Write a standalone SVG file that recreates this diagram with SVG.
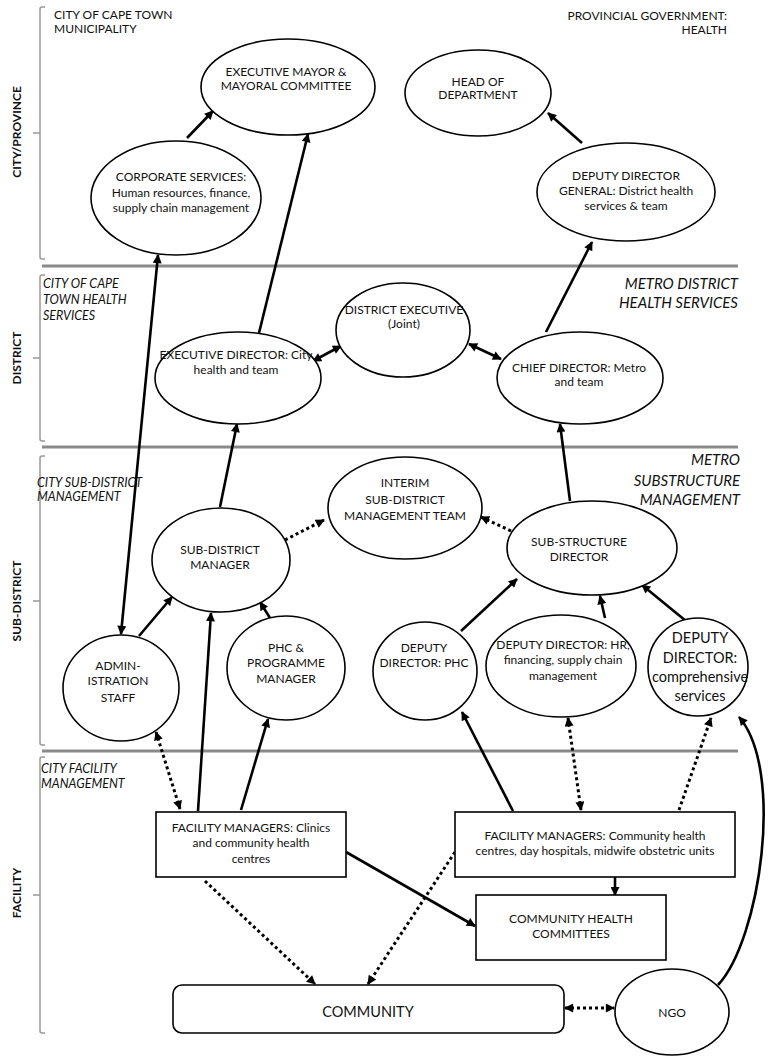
<svg xmlns="http://www.w3.org/2000/svg" width="781" height="1056" viewBox="0 0 781 1056">
<defs>
<style>
.n{fill:#fff;stroke:#000;stroke-width:1.6}
.t{font-family:Lato,"Liberation Sans",sans-serif;font-size:12px;fill:#111;text-anchor:middle}
.tl{font-family:Lato,"Liberation Sans",sans-serif;font-size:14.5px;fill:#111;text-anchor:middle}
.band{font-family:Lato,"Liberation Sans",sans-serif;font-size:12.5px;fill:#111;font-style:italic}
.bandr{font-family:Lato,"Liberation Sans",sans-serif;font-size:15px;fill:#111;font-style:italic;text-anchor:end}
.vl{font-family:Lato,"Liberation Sans",sans-serif;font-size:12px;font-weight:bold;fill:#111;text-anchor:middle}
.sep{stroke:#8a8a8a;stroke-width:3;fill:none}
.br{stroke:#999;stroke-width:1.5;fill:none}
.s{stroke:#000;stroke-width:2.6;fill:none;marker-end:url(#ah)}
.d{stroke:#000;stroke-width:3;stroke-dasharray:3 3;fill:none;marker-end:url(#ah)}
.both{marker-start:url(#ah)}
</style>
<marker id="ah" viewBox="0 0 10 10" refX="9" refY="5" markerWidth="10" markerHeight="9" markerUnits="userSpaceOnUse" orient="auto-start-reverse">
<path d="M0,0 L10,5 L0,10 z" fill="#000"/>
</marker>
</defs>
<rect width="781" height="1056" fill="#fff"/>

<g id="bands">
<path class="br" d="M45,7 H42 Q40,7 40,9 V257 Q40,259 42,259 H45 M40,133 H33"/>
<path class="br" d="M45,275 H42 Q40,275 40,277 V439 Q40,441 42,441 H45 M40,358 H33"/>
<path class="br" d="M45,456 H42 Q40,456 40,458 V743 Q40,745 42,745 H45 M40,601 H33"/>
<path class="br" d="M45,757 H42 Q40,757 40,759 V1031 Q40,1033 42,1033 H45 M40,895 H33"/>
<line class="sep" x1="42" y1="266" x2="738" y2="266"/>
<line class="sep" x1="42" y1="447" x2="738" y2="447"/>
<line class="sep" x1="42" y1="751" x2="738" y2="751"/>
<text class="vl" transform="translate(21,132) rotate(-90)">CITY/PROVINCE</text>
<text class="vl" transform="translate(21,358) rotate(-90)">DISTRICT</text>
<text class="vl" transform="translate(21,601) rotate(-90)">SUB-DISTRICT</text>
<text class="vl" transform="translate(21,893) rotate(-90)">FACILITY</text>
<text class="t" style="text-anchor:start" x="54" y="19">CITY OF CAPE TOWN</text>
<text class="t" style="text-anchor:start" x="54" y="33">MUNICIPALITY</text>
<text class="t" style="text-anchor:end" x="727" y="20">PROVINCIAL GOVERNMENT:</text>
<text class="t" style="text-anchor:end" x="727" y="34">HEALTH</text>
<text class="band" x="43" y="288">CITY OF CAPE</text>
<text class="band" x="43" y="304">TOWN HEALTH</text>
<text class="band" x="43" y="320">SERVICES</text>
<text class="bandr" x="738" y="289">METRO DISTRICT</text>
<text class="bandr" x="738" y="308">HEALTH SERVICES</text>
<text class="band" x="37" y="487">CITY SUB-DISTRICT</text>
<text class="band" x="37" y="501">MANAGEMENT</text>
<text class="bandr" x="740" y="465">METRO</text>
<text class="bandr" x="740" y="486">SUBSTRUCTURE</text>
<text class="bandr" x="740" y="505">MANAGEMENT</text>
<text class="band" x="41" y="773">CITY FACILITY</text>
<text class="band" x="41" y="788">MANAGEMENT</text>
</g>

<g id="connectors">
<path class="s" d="M187,138 L213,111"/>
<path class="s" d="M259,333 L308,134"/>
<path class="s both" d="M121,634 L158,255"/>
<path class="s both" d="M313,361 L341,346"/>
<path class="s both" d="M469,344 L501,359"/>
<path class="s" d="M546,332 L592,242"/>
<path class="s" d="M582,143 L548,113"/>
<path class="s" d="M220,507 L237,424"/>
<path class="s" d="M570,501 L560,424"/>
<path class="d" d="M285,540 L324,520"/>
<path class="d" d="M511,531 L481,517"/>
<path class="s" d="M139,636 L172,597"/>
<path class="s" d="M270,618 L260,602"/>
<path class="s" d="M198,811 L211,613"/>
<path class="s" d="M241,810 L268,719"/>
<path class="d both" d="M156,732 L180,809"/>
<path class="s" d="M461,631 L517,579"/>
<path class="s" d="M605,618 L600,596"/>
<path class="s" d="M686,621 L642,585"/>
<path class="s" d="M513,811 L462,712"/>
<path class="d both" d="M581,810 L568,718"/>
<path class="d" d="M679,810 L711,718"/>
<path class="s" d="M718,985 C760,940 785,770 739,717"/>
<path class="s" d="M346,852 L475,926"/>
<path class="s" d="M615,877 L615,895"/>
<path class="d" d="M205,881 L315,984"/>
<path class="d" d="M455,852 L368,984"/>
<path class="d both" d="M565,1008 L614,1008"/>
</g>

<g id="exec-mayor"><ellipse class="n" cx="288" cy="87" rx="87" ry="48"/>
<text class="t" x="286" y="76">EXECUTIVE MAYOR &amp;</text><text class="t" x="286" y="90">MAYORAL COMMITTEE</text></g>
<g id="corporate"><ellipse class="n" cx="176" cy="198" rx="85" ry="57"/>
<text class="t" x="181" y="181">CORPORATE SERVICES:</text><text class="t" x="181" y="197">Human resources, finance,</text><text class="t" x="181" y="212">supply chain management</text></g>
<g id="head-dept"><ellipse class="n" cx="478" cy="93" rx="73" ry="43"/>
<text class="t" x="478" y="86">HEAD OF</text><text class="t" x="478" y="99">DEPARTMENT</text></g>
<g id="ddg"><ellipse class="n" cx="626" cy="192" rx="89" ry="49"/>
<text class="t" x="626" y="180">DEPUTY DIRECTOR</text><text class="t" x="626" y="195">GENERAL: District health</text><text class="t" x="626" y="210">services &amp; team</text></g>
<g id="exec-director"><ellipse class="n" cx="238" cy="378" rx="83" ry="46"/>
<text class="t" x="236" y="359">EXECUTIVE DIRECTOR: City</text><text class="t" x="236" y="374">health and team</text></g>
<g id="district-exec"><ellipse class="n" cx="403" cy="330" rx="67" ry="47"/>
<text class="t" x="404" y="314">DISTRICT EXECUTIVE</text><text class="t" x="404" y="328">(Joint)</text></g>
<g id="chief-director"><ellipse class="n" cx="580" cy="378" rx="83" ry="46"/>
<text class="t" x="579" y="372">CHIEF DIRECTOR: Metro</text><text class="t" x="579" y="386">and team</text></g>
<g id="interim"><ellipse class="n" cx="405" cy="508" rx="77" ry="51"/>
<text class="t" x="405" y="487">INTERIM</text><text class="t" x="405" y="504">SUB-DISTRICT</text><text class="t" x="405" y="520">MANAGEMENT TEAM</text></g>
<g id="sub-district-manager"><ellipse class="n" cx="221" cy="560" rx="69" ry="52"/>
<text class="t" x="220" y="554">SUB-DISTRICT</text><text class="t" x="220" y="569">MANAGER</text></g>
<g id="sub-structure-director"><ellipse class="n" cx="592" cy="548" rx="85" ry="47"/>
<text class="t" x="579" y="546">SUB-STRUCTURE</text><text class="t" x="579" y="561">DIRECTOR</text></g>
<g id="admin-staff"><ellipse class="n" cx="121" cy="688" rx="58" ry="53"/>
<text class="t" x="118" y="670">ADMIN-</text><text class="t" x="118" y="685">ISTRATION</text><text class="t" x="118" y="702">STAFF</text></g>
<g id="phc-programme"><ellipse class="n" cx="286" cy="668" rx="59" ry="52"/>
<text class="t" x="286" y="652">PHC &amp;</text><text class="t" x="286" y="667">PROGRAMME</text><text class="t" x="286" y="683">MANAGER</text></g>
<g id="dd-phc"><ellipse class="n" cx="425" cy="671" rx="52" ry="49"/>
<text class="t" x="424" y="652">DEPUTY</text><text class="t" x="424" y="667">DIRECTOR: PHC</text></g>
<g id="dd-hr"><ellipse class="n" cx="561" cy="666" rx="75" ry="51"/>
<text class="t" x="563" y="649">DEPUTY DIRECTOR: HR,</text><text class="t" x="563" y="664">financing, supply chain</text><text class="t" x="563" y="680">management</text></g>
<g id="dd-comprehensive"><ellipse class="n" cx="698" cy="667" rx="50" ry="49"/>
<text class="tl" x="700" y="643">DEPUTY</text><text class="tl" x="700" y="663">DIRECTOR:</text><text class="tl" x="700" y="682">comprehensive</text><text class="tl" x="700" y="701">services</text></g>
<g id="fm-clinics"><rect class="n" x="156" y="812" width="190" height="65"/>
<text class="t" x="251" y="832">FACILITY MANAGERS: Clinics</text><text class="t" x="251" y="847">and community health</text><text class="t" x="251" y="863">centres</text></g>
<g id="fm-community"><rect class="n" x="455" y="812" width="280" height="65"/>
<text class="t" x="595" y="840">FACILITY MANAGERS: Community health</text><text class="t" x="595" y="855">centres, day hospitals, midwife obstetric units</text></g>
<g id="chc"><rect class="n" x="476" y="895" width="190" height="65"/>
<text class="t" x="571" y="923">COMMUNITY HEALTH</text><text class="t" x="571" y="938">COMMITTEES</text></g>
<g id="community"><rect class="n" x="173" y="985" width="391" height="48" rx="9"/>
<text class="tl" x="368" y="1017">COMMUNITY</text></g>
<g id="ngo"><ellipse class="n" cx="672" cy="1012" rx="57" ry="43"/>
<text class="t" x="672" y="1017">NGO</text></g>
</svg>
